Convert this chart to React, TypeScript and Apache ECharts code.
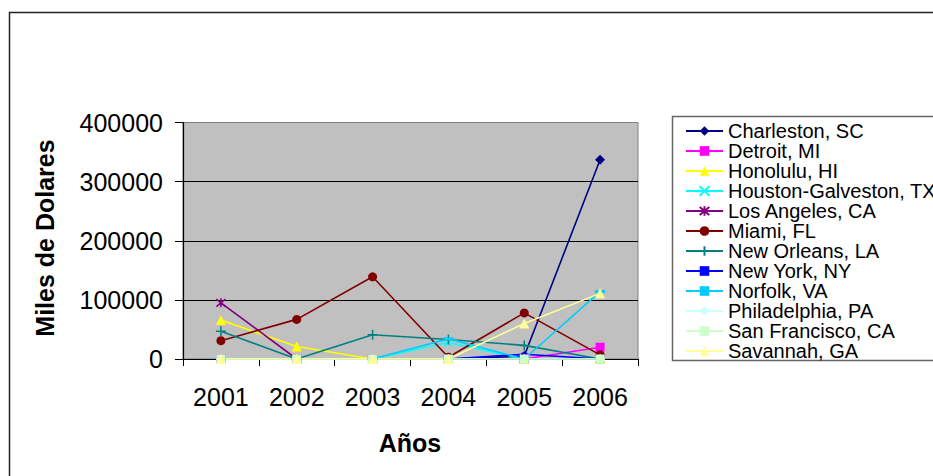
import React, { useEffect, useRef } from "react";
import * as echarts from "echarts";

const years = ["2001", "2002", "2003", "2004", "2005", "2006"];
const cityNames = [
  "Charleston, SC",
  "Detroit, MI",
  "Honolulu, HI",
  "Houston-Galveston, TX",
  "Los Angeles, CA",
  "Miami, FL",
  "New Orleans, LA",
  "New York, NY",
  "Norfolk, VA",
  "Philadelphia, PA",
  "San Francisco, CA",
  "Savannah, GA",
];
const charleston = [0, 0, 0, 0, 5000, 337000];
const detroit = [0, 0, 0, 0, 0, 20000];
const honolulu = [66000, 21000, 0, 0, 0, 0];
const houston = [0, 0, 0, 28000, 0, 0];
const losAngeles = [95000, 0, 0, 0, 0, 0];
const miami = [31000, 67000, 139000, 3000, 78000, 7000];
const newOrleans = [47000, 0, 41000, 33000, 23000, 0];
const newYork = [0, 0, 0, 0, 8000, 0];
const norfolk = [0, 0, 0, 34000, 0, 114000];
const philadelphia = [0, 0, 0, 0, 0, 0];
const sanFrancisco = [0, 0, 0, 0, 0, 0];
const savannah = [0, 0, 0, 0, 60000, 111000];
const yTicks = [0, 100000, 200000, 300000, 400000];

const seriesValues = [
  charleston, detroit, honolulu, houston, losAngeles, miami,
  newOrleans, newYork, norfolk, philadelphia, sanFrancisco, savannah,
];

const colors = [
  "#000080", "#FF00FF", "#FFFF00", "#00FFFF", "#800080", "#800000",
  "#008080", "#0000FF", "#00CCFF", "#CCFFFF", "#CCFFCC", "#FFFF99",
];

// marker definitions: [symbol, size, stroked]
const markers: [string, any, boolean][] = [
  ["diamond", 10, false],
  ["rect", 9, false],
  ["triangle", 10, false],
  ["path://M0,0L10,10M10,0L0,10", 8, true],
  ["path://M0,0L10,10M10,0L0,10M5,-1L5,11", 9, true],
  ["circle", 9, false],
  ["path://M5,0L5,10M0,5L10,5", 10, true],
  ["rect", [6, 3], false],
  ["rect", [10, 3], false],
  ["diamond", 10, false],
  ["rect", 9, false],
  ["triangle", 10, false],
];

export default function App() {
  const ref = useRef<HTMLDivElement>(null);
  useEffect(() => {
    if (!ref.current) return;
    const chart = echarts.init(ref.current, null, { renderer: "svg" });
    const font = "Arial, 'Liberation Sans', sans-serif";
    const series = cityNames.map((name, i) => {
      const [sym, size, stroked] = markers[i];
      return {
        name,
        type: "line",
        data: seriesValues[i],
        symbol: sym,
        symbolSize: size,
        showSymbol: true,
        lineStyle: { color: colors[i], width: 1.6 },
        itemStyle: stroked
          ? { color: colors[i], borderColor: colors[i], borderWidth: 1.5 }
          : { color: colors[i], borderWidth: 0 },
        emphasis: { disabled: true },
      };
    });
    chart.setOption({
      animation: false,
      backgroundColor: "#ffffff",
      textStyle: { fontFamily: font },
      grid: {
        left: 183,
        top: 122.5,
        width: 455,
        height: 236.5,
        show: true,
        backgroundColor: "#C0C0C0",
        borderColor: "#808080",
        borderWidth: 1,
        containLabel: false,
      },
      legend: {
        orient: "vertical",
        left: 685,
        top: 121,
        padding: 0,
        itemGap: 0,
        itemWidth: 37,
        itemHeight: 12,
        data: cityNames,
        textStyle: {
          fontSize: 20,
          fontFamily: font,
          color: "#000",
          lineHeight: 19.5,
        },
      },
      xAxis: {
        type: "category",
        data: years,
        boundaryGap: true,
        axisLine: { lineStyle: { color: "#000", width: 1.2 } },
        axisTick: { show: true, length: 7, interval: 0, lineStyle: { color: "#000" } },
        axisLabel: { fontSize: 25, color: "#000", margin: 25, fontFamily: font },
        splitLine: { show: false },
      },
      yAxis: {
        type: "value",
        min: yTicks[0],
        max: yTicks[yTicks.length - 1],
        interval: yTicks[1] - yTicks[0],
        axisLine: { show: true, lineStyle: { color: "#000", width: 1.2 } },
        axisTick: { show: true, length: 8, lineStyle: { color: "#000" } },
        axisLabel: {
          fontSize: 25,
          color: "#000",
          margin: 20,
          fontFamily: font,
          formatter: (v: number) => String(v),
        },
        splitLine: {
          show: true,
          lineStyle: { color: ["#000", "#000", "#000", "#000", "#808080"], width: 1.2 },
        },
      },
      graphic: [
        {
          type: "rect",
          z: 0,
          shape: { x: 9.5, y: 12.5, width: 2000, height: 2000 },
          style: { fill: "none", stroke: "#222", lineWidth: 1.5 },
          silent: true,
        },
        {
          type: "rect",
          z: 0,
          shape: { x: 672.5, y: 116.5, width: 400, height: 244 },
          style: { fill: "#fff", stroke: "#666", lineWidth: 1.5 },
          silent: true,
        },
        {
          type: "text",
          z: 5,
          x: 45,
          y: 238,
          rotation: Math.PI / 2,
          style: {
            text: "Miles de Dolares",
            align: "center",
            verticalAlign: "middle",
            font: "bold 25px Arial, 'Liberation Sans', sans-serif",
            fill: "#000",
          },
        },
        {
          type: "text",
          z: 5,
          x: 410,
          y: 443,
          style: {
            text: "Años",
            align: "center",
            verticalAlign: "middle",
            font: "bold 25px Arial, 'Liberation Sans', sans-serif",
            fill: "#000",
          },
        },
      ],
      series,
    });
    return () => chart.dispose();
  }, []);
  return (
    <div
      ref={ref}
      style={{ position: "absolute", left: 0, top: 0, width: 933, height: 476 }}
    />
  );
}
